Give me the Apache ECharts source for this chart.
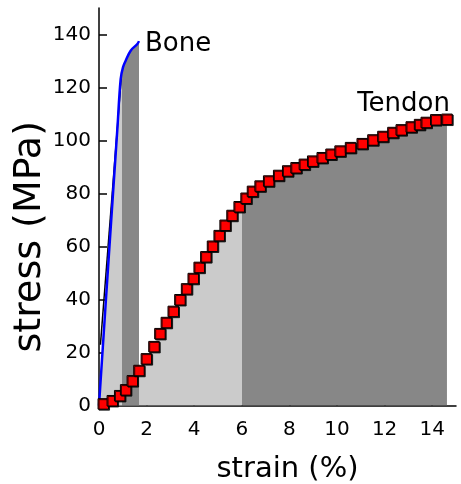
<!DOCTYPE html>
<html><head><meta charset="utf-8">
<script src="https://cdn.jsdelivr.net/npm/echarts@6/dist/echarts.min.js"></script>
<style>html,body{margin:0;padding:0;background:#fff}#c{width:461px;height:484px}</style>
</head><body><div id="c"></div>
<script>
// Tendon stress-strain (strain %, stress MPa)
const tendonX = [0.18,0.56,0.87,1.12,1.40,1.68,1.99,2.31,2.56,2.83,3.12,3.40,3.68,3.96,4.21,4.49,4.77,5.05,5.30,5.59,5.89,6.18,6.45,6.77,7.13,7.55,7.93,8.28,8.63,8.98,9.38,9.75,10.13,10.57,11.06,11.51,11.93,12.35,12.70,13.12,13.47,13.75,14.15,14.62];
const tendonY = [0.6,1.8,3.7,5.9,9.3,13.2,17.6,22.2,27.1,31.3,35.5,39.9,44.0,47.9,52.1,56.1,60.1,64.1,68.0,71.7,75.0,78.2,80.8,82.8,84.7,86.8,88.5,89.7,91.0,92.2,93.5,94.8,96.0,97.3,98.8,100.2,101.5,103.0,104.0,105.1,106.0,106.8,107.8,108.0];
// Bone stress-strain
const boneX = [0,0.38,0.77,0.91,1.01,1.12,1.33,1.61,1.68];
const boneY = [0,52,104.2,123.2,127.7,130.1,133.9,136.4,137.5];
// Linear fit line on bone
const fitX = [0.06,0.93];
const fitY = [22.9,123.2];
// Region boundaries (strain)
const tendonSplit = 6;
const boneSplit = 0.98;
const xMax = 15, yMax = 150;
const xTicks = [0,2,4,6,8,10,12,14];
const yTicks = [0,20,40,60,80,100,120,140];
const lightGray = '#cbcbcb', darkGray = '#878787';
const font = 'DejaVu Sans';

const pair = (xs, ys) => xs.map((x, i) => [x, ys[i]]);
const tendonData = pair(tendonX, tendonY);
const boneData = pair(boneX, boneY);
const fitData = pair(fitX, fitY);

const chart = echarts.init(document.getElementById('c'), null, {renderer: 'canvas'});
const axisCommon = {
  type: 'value',
  nameLocation: 'middle',
  nameMoveOverlap: false,
  axisLine: {show: true, lineStyle: {color: '#000', width: 1.5}},
  axisTick: {show: true, inside: true, length: 8, lineStyle: {color: '#000', width: 1.5}},
  splitLine: {show: false}
};
chart.setOption({
  animation: false,
  grid: {left: 99, right: 5, top: 8, bottom: 78.5, containLabel: false, outerBoundsMode: 'none'},
  xAxis: Object.assign({}, axisCommon, {
    min: 0, max: xMax,
    name: 'strain (%)', nameGap: 49,
    nameTextStyle: {fontFamily: font, fontSize: 29, color: '#000', padding: [0, 0, 0, 20]},
    axisTick: Object.assign({}, axisCommon.axisTick, {customValues: xTicks}),
    axisLabel: {customValues: xTicks, fontFamily: font, fontSize: 20, color: '#000', margin: 14}
  }),
  yAxis: Object.assign({}, axisCommon, {
    min: 0, max: yMax,
    name: 'stress (MPa)', nameGap: 50,
    nameTextStyle: {fontFamily: font, fontSize: 38, color: '#000', padding: [0, 60, 0, 0]},
    axisTick: Object.assign({}, axisCommon.axisTick, {customValues: yTicks}),
    axisLabel: {customValues: yTicks, fontFamily: font, fontSize: 20, color: '#000', margin: 8}
  }),
  visualMap: [
    {type: 'piecewise', show: false, dimension: 0, seriesIndex: 0,
     pieces: [{gte: 0, lt: tendonSplit, color: lightGray}, {gte: tendonSplit, lte: xMax, color: darkGray}]},
    {type: 'piecewise', show: false, dimension: 0, seriesIndex: 1,
     pieces: [{gte: 0, lt: boneSplit, color: lightGray}, {gte: boneSplit, lte: xMax, color: darkGray}]}
  ],
  series: [
    {type: 'line', data: tendonData, symbol: 'none', lineStyle: {width: 0},
     areaStyle: {opacity: 1}, z: 1, silent: true},
    {type: 'line', data: boneData, symbol: 'none', smooth: 0.4, lineStyle: {width: 0},
     areaStyle: {opacity: 1}, z: 2, silent: true},
    {type: 'line', data: fitData, symbol: 'none', lineStyle: {color: '#000', width: 1.5}, z: 3},
    {type: 'line', name: 'Bone', data: boneData, symbol: 'none', smooth: 0.4,
     lineStyle: {color: '#0000ff', width: 2.5}, z: 4,
     endLabel: {show: true, formatter: '{a}', fontFamily: font, fontSize: 26, color: '#000',
                distance: 6, offset: [0, 3]}},
    {type: 'line', name: 'Tendon', data: tendonData, symbol: 'rect', symbolSize: 10.5,
     lineStyle: {width: 0}, z: 5,
     itemStyle: {color: '#ff0000', borderColor: '#000', borderWidth: 1,
                 shadowColor: 'rgba(0,0,0,0.8)', shadowOffsetX: 1, shadowOffsetY: 1, shadowBlur: 0},
     endLabel: {show: true, formatter: '{a}', fontFamily: font, fontSize: 26, color: '#000',
                align: 'right', verticalAlign: 'bottom', distance: 0, offset: [3, -2]}}
  ]
});
</script>
</body></html>
